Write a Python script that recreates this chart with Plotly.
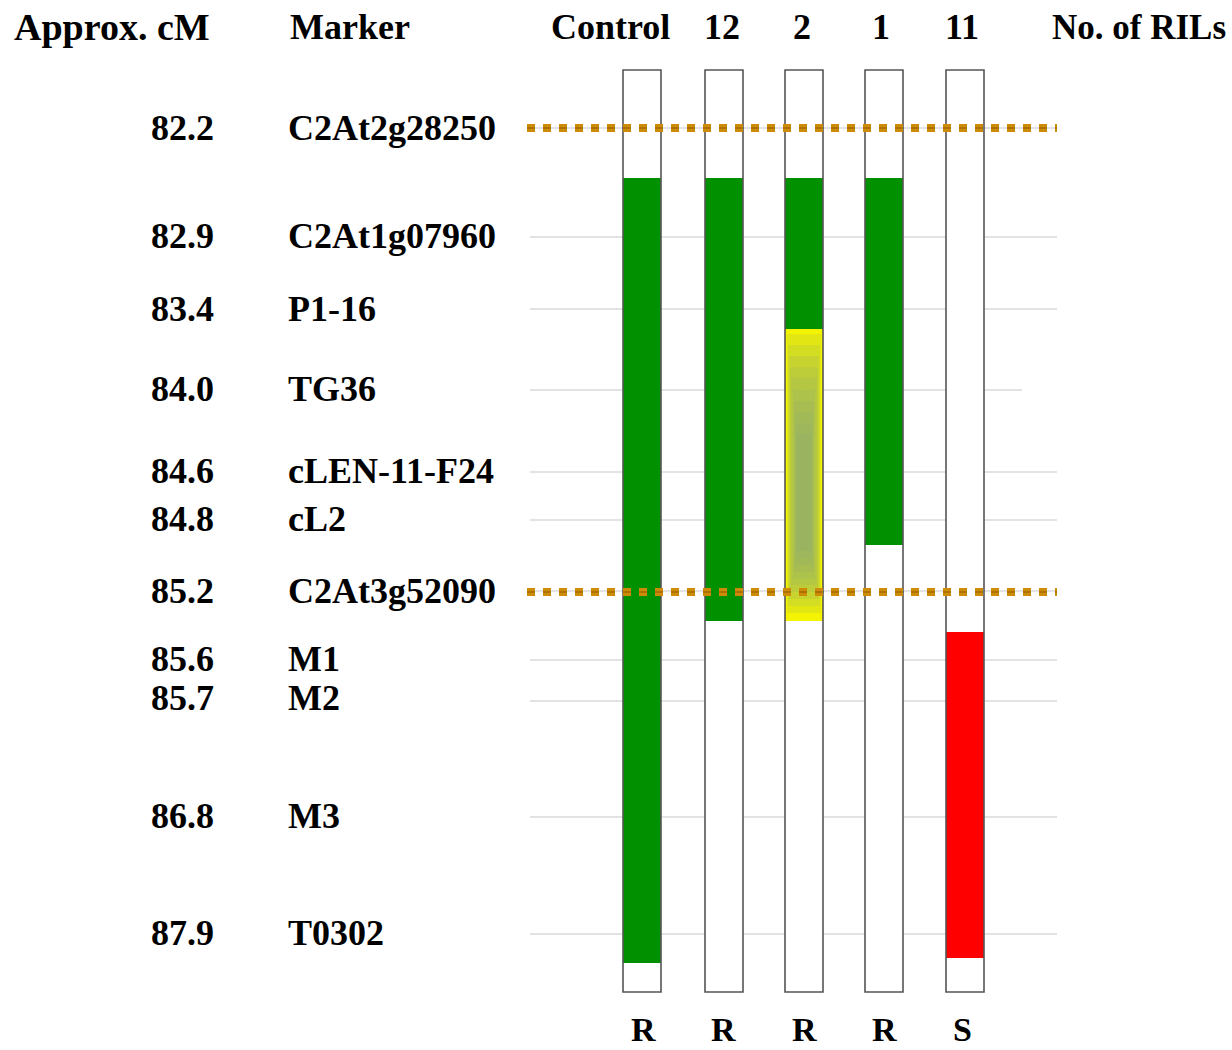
import plotly.graph_objects as go

# ---------------- data ----------------
cm_values = [82.2, 82.9, 83.4, 84.0, 84.6, 84.8, 85.2, 85.6, 85.7, 86.8, 87.9]
markers = ["C2At2g28250", "C2At1g07960", "P1-16", "TG36", "cLEN-11-F24", "cL2",
           "C2At3g52090", "M1", "M2", "M3", "T0302"]
lines = ["Control", "12", "2", "1", "11"]
phenotype = ["R", "R", "R", "R", "S"]
# genotype segments per line: (start, end, type) in map-position units
segments = {
    "Control": [(178, 963, "R")],
    "12": [(178, 621, "R")],
    "2": [(178, 329, "R"), (329, 621, "H")],
    "1": [(178, 545, "R")],
    "11": [(632, 958, "S")],
}
flank_markers = ["C2At2g28250", "C2At3g52090"]

# ---------------- layout (map positions / styles) ----------------
marker_pos = [128, 237, 309, 390, 472, 520, 591, 660, 701, 817, 934]
label_pos = [128, 236, 309, 389, 471, 519, 591, 659, 698, 816, 933]
col_x = [642, 724, 804, 884, 965]
col_top, col_bot = 70, 992
col_w = 38
colors = {"R": "#009000", "S": "#ff0000", "H": "#f4f400"}
FONT = "Liberation Serif, Times New Roman, serif"

fig = go.Figure()

# white column frames
fig.add_trace(go.Bar(x=col_x, y=[col_bot - col_top] * len(col_x), base=[col_top] * len(col_x),
                     width=col_w, marker=dict(color="white", line=dict(width=0)),
                     hoverinfo="skip", showlegend=False))

# genotype segments
for i, ln in enumerate(lines):
    for (s, e, t) in segments[ln]:
        fig.add_trace(go.Bar(x=[col_x[i]], y=[e - s], base=[s], width=col_w,
                             marker=dict(color=colors[t], line=dict(width=0)),
                             hoverinfo="skip", showlegend=False))
        if t == "H":
            # blurred grey-green core of the heterozygous segment
            n = 10
            for k in range(n):
                f = k / (n - 1)
                dx = 17 - 10 * f
                t0 = 5 + 100 * f
                t1 = 8 + 62 * f
                fig.add_trace(go.Bar(x=[col_x[i]], y=[(e - t1) - (s + t0)], base=[s + t0],
                                     width=2 * dx, opacity=0.16,
                                     marker=dict(color="#8aa878", line=dict(width=0)),
                                     hoverinfo="skip", showlegend=False))

shapes = []
# gray marker lines
for j, y in enumerate(marker_pos):
    x1 = 1022 if markers[j] == "TG36" else 1057
    shapes.append(dict(type="line", xref="x", yref="y", x0=530, x1=x1, y0=y, y1=y,
                       line=dict(color="#c8c8c8", width=1.2), layer="below"))
# column outlines
for cx in col_x:
    shapes.append(dict(type="rect", xref="x", yref="y", x0=cx - col_w / 2, x1=cx + col_w / 2,
                       y0=col_top, y1=col_bot, line=dict(color="#555555", width=1.6),
                       fillcolor="rgba(0,0,0,0)", layer="above"))
# dashed flanking-marker lines
for m in flank_markers:
    y = marker_pos[markers.index(m)] + (1 if m == "C2At3g52090" else 0)
    shapes.append(dict(type="line", xref="x", yref="y", x0=527, x1=1057, y0=y, y1=y,
                       line=dict(color="#cf8a06", width=8, dash="8px,8px"), layer="above"))
    shapes.append(dict(type="line", xref="x", yref="y", x0=527, x1=1057, y0=y, y1=y,
                       line=dict(color="#8a5800", width=1.2, dash="8px,8px"), layer="above"))

ann = []
def txt(x, y, s, anchor="center", size=35):
    ann.append(dict(x=x, y=y, xref="x", yref="y", text="<b>" + s + "</b>", showarrow=False,
                    xanchor=anchor, yanchor="middle", borderpad=0, borderwidth=0,
                    font=dict(family=FONT, size=size, color="black")))

# headers
txt(14, 27, "Approx. cM", "left", 38)
txt(290, 27, "Marker", "left", 36)
for i, ln in enumerate(lines):
    hx = [610, 722, 802, 881, 962][i]
    txt(hx, 27, ln, "center", 36)
txt(1226, 27, "No. of RILs", "right", 35)

for j in range(len(markers)):
    txt(214, label_pos[j], f"{cm_values[j]:.1f}", "right", 36)
    txt(288, label_pos[j], markers[j], "left", 36)

for i, p in enumerate(phenotype):
    txt([643, 723, 804, 884, 962][i], 1029, p, "center", 34)

fig.update_layout(
    width=1232, height=1050, margin=dict(l=0, r=0, t=0, b=0),
    paper_bgcolor="white", plot_bgcolor="white", barmode="overlay", bargap=0,
    xaxis=dict(range=[0, 1232], visible=False, fixedrange=True),
    yaxis=dict(range=[1050, 0], visible=False, fixedrange=True),
    shapes=shapes, annotations=ann, showlegend=False,
)
fig.write_html("out.html", config={"displayModeBar": False},
               post_script="document.body.style.margin='0';")
